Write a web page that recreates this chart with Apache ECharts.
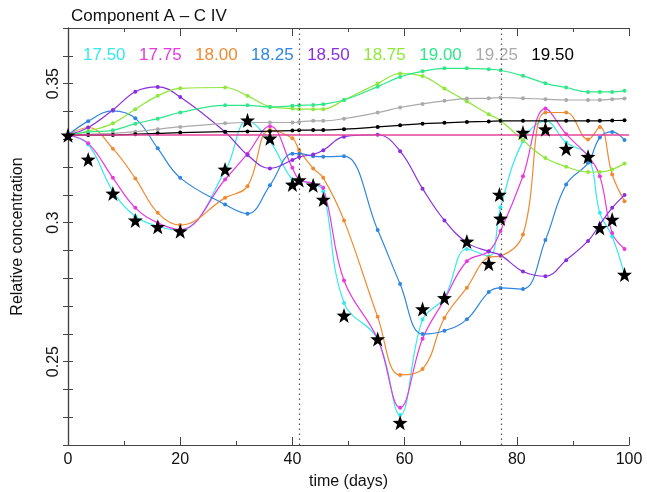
<!DOCTYPE html>
<html>
<head>
<meta charset="utf-8">
<script src="https://cdn.jsdelivr.net/npm/echarts@6/dist/echarts.min.js"></script>
<style>
  html, body { margin: 0; padding: 0; background: #fff; }
  #chart { width: 647px; height: 492px; }
</style>
</head>
<body>
<div id="chart"></div>
<script>
// sample times (days) shared by all model runs
const times = [0, 3.6, 8, 12, 16, 20, 28, 32, 36, 40, 41.2, 43.7, 45.5, 49.2, 55.2, 59.2, 63.2, 67.1, 71.1, 75, 77.1, 81.1, 85.1, 88.8, 92.7, 94.8, 97, 99.2];

const runNames = ['17.50', '17.75', '18.00', '18.25', '18.50', '18.75', '19.00', '19.25', '19.50'];
const runColors = ['#35e8ee', '#e838e0', '#f08a30', '#2f86e0', '#8a2fe0', '#8ee83a', '#2ee888', '#aaaaaa', '#000000'];

const run1750 = [0.3315, 0.3281, 0.3113, 0.3023, 0.2987, 0.2973, 0.3185, 0.3366, 0.3293, 0.3155, 0.3149, 0.3141, 0.3113, 0.2711, 0.2581, 0.2308, 0.2651, 0.2729, 0.2905, 0.2879, 0.3055, 0.3293, 0.3366, 0.3288, 0.3239, 0.3035, 0.2950, 0.2813];
const run1775 = [0.3315, 0.3285, 0.3161, 0.3053, 0.2999, 0.2975, 0.3155, 0.3248, 0.3347, 0.3197, 0.3155, 0.3141, 0.3125, 0.2792, 0.2581, 0.2334, 0.2582, 0.2723, 0.2861, 0.2897, 0.2970, 0.3167, 0.3410, 0.3318, 0.3239, 0.3167, 0.2963, 0.2905];
const run1800 = [0.3315, 0.3342, 0.3266, 0.3159, 0.3035, 0.2991, 0.3089, 0.3131, 0.3333, 0.3303, 0.3261, 0.3195, 0.3161, 0.3008, 0.2661, 0.2452, 0.2473, 0.2657, 0.2766, 0.2875, 0.2880, 0.2957, 0.3396, 0.3396, 0.3299, 0.3344, 0.3173, 0.3077];
const run1825 = [0.3315, 0.3365, 0.3402, 0.3375, 0.3267, 0.3161, 0.3065, 0.3032, 0.3134, 0.3248, 0.3248, 0.3239, 0.3237, 0.3239, 0.2973, 0.2779, 0.2599, 0.2611, 0.2652, 0.2750, 0.2765, 0.2761, 0.2937, 0.3137, 0.3215, 0.3306, 0.3326, 0.3297];
const run1850 = [0.3315, 0.3342, 0.3405, 0.3471, 0.3488, 0.3452, 0.3326, 0.3243, 0.3195, 0.3225, 0.3236, 0.3245, 0.3260, 0.3309, 0.3316, 0.3257, 0.3122, 0.3008, 0.2928, 0.2896, 0.2883, 0.2824, 0.2807, 0.2865, 0.2934, 0.2993, 0.3053, 0.3099];
const run1875 = [0.3315, 0.3329, 0.3357, 0.3408, 0.3456, 0.3483, 0.3486, 0.3456, 0.3417, 0.3410, 0.3408, 0.3408, 0.3408, 0.3441, 0.3500, 0.3536, 0.3527, 0.3482, 0.3436, 0.3390, 0.3367, 0.3296, 0.3232, 0.3201, 0.3182, 0.3182, 0.3191, 0.3213];
const run1900 = [0.3315, 0.3326, 0.3332, 0.3356, 0.3374, 0.3396, 0.3422, 0.3422, 0.3416, 0.3420, 0.3422, 0.3423, 0.3426, 0.3441, 0.3489, 0.3524, 0.3544, 0.3555, 0.3555, 0.3552, 0.3548, 0.3528, 0.3501, 0.3486, 0.3470, 0.3470, 0.3470, 0.3474];
const run1925 = [0.3315, 0.3318, 0.3321, 0.3327, 0.3336, 0.3344, 0.3357, 0.3360, 0.3360, 0.3360, 0.3362, 0.3366, 0.3366, 0.3374, 0.3396, 0.3414, 0.3427, 0.3438, 0.3446, 0.3447, 0.3450, 0.3447, 0.3444, 0.3441, 0.3441, 0.3441, 0.3444, 0.3446];
const run1950 = [0.3315, 0.3315, 0.3315, 0.3318, 0.3321, 0.3324, 0.3327, 0.3328, 0.3329, 0.3331, 0.3332, 0.3333, 0.3333, 0.3336, 0.3344, 0.3350, 0.3356, 0.3359, 0.3362, 0.3364, 0.3366, 0.3366, 0.3366, 0.3366, 0.3366, 0.3366, 0.3367, 0.3368];
const runs = [run1750, run1775, run1800, run1825, run1850, run1875, run1900, run1925, run1950];

// observations (stars)
const obsTimes = [0, 3.6, 8, 12, 16, 20, 28, 32, 36, 40, 41.2, 43.7, 45.5, 49.2, 55.2, 59.2, 63.2, 67.1, 71.1, 75, 76.9, 77.1, 81.1, 85.1, 88.8, 92.7, 94.8, 97, 99.2];
const obsValues = [0.3314, 0.3227, 0.3105, 0.3008, 0.2985, 0.2969, 0.3191, 0.3368, 0.3303, 0.3137, 0.3153, 0.3134, 0.3083, 0.2666, 0.2581, 0.2280, 0.2689, 0.2729, 0.2932, 0.2852, 0.3101, 0.3015, 0.3324, 0.3336, 0.3266, 0.3237, 0.2981, 0.3011, 0.2813];

const refLevel = 0.3315;
const markTimes = [41.2, 77.2];
const xTicks = [0, 20, 40, 60, 80, 100];
const yLabels = [0.25, 0.3, 0.35];

const FONT = 'Liberation Sans, Arial, sans-serif';
const star = 'path://M0,-10 L2.35,-3.24 L9.51,-3.09 L3.8,1.24 L5.88,8.09 L0,4 L-5.88,8.09 L-3.8,1.24 L-9.51,-3.09 L-2.35,-3.24 Z';

const chart = echarts.init(document.getElementById('chart'), null, { renderer: 'canvas' });

const series = runs.map((vals, i) => ({
  name: runNames[i],
  type: 'line',
  data: times.map((t, j) => [t, vals[j]]),
  smooth: 0.4,
  symbol: 'circle',
  symbolSize: 4,
  showSymbol: true,
  lineStyle: { width: 1.2, color: runColors[i] },
  itemStyle: { color: runColors[i] },
  emphasis: { disabled: true },
  z: 3
}));

series.push({
  name: 'reference',
  type: 'line',
  data: [[0, refLevel], [100, refLevel]],
  symbol: 'none',
  lineStyle: { width: 1.5, color: '#e4449a' },
  z: 4,
  markLine: {
    silent: true,
    symbol: 'none',
    label: { show: false },
    lineStyle: { type: [1.5, 3.5], color: '#555', width: 1.2 },
    data: markTimes.map(t => ({ xAxis: t }))
  }
});

series.push({
  name: 'observed',
  type: 'scatter',
  data: obsTimes.map((t, j) => [t, obsValues[j]]),
  symbol: star,
  symbolSize: 15,
  itemStyle: { color: '#000', opacity: 1 },
  emphasis: { disabled: true },
  z: 6
});

const axisCommon = {
  axisLine: { lineStyle: { color: '#444', width: 1.2 } },
  splitLine: { show: false }
};

chart.setOption({
  animation: false,
  title: {
    text: 'Component A \u2013 C IV',
    left: 66,
    top: 3,
    textStyle: { fontFamily: FONT, fontSize: 17, fontWeight: 'normal', color: '#111' }
  },
  legend: {
    data: runNames.map((n, i) => ({ name: n, icon: 'none', textStyle: { color: runColors[i] } })),
    left: 73,
    top: 42,
    itemWidth: 0,
    itemHeight: 10,
    itemGap: 8.5,
    selectedMode: false,
    textStyle: { fontFamily: FONT, fontSize: 17 }
  },
  grid: { left: 68, right: 18, top: 28, bottom: 47, outerBoundsMode: 'none' },
  xAxis: [{
    type: 'value', min: 0, max: 100, interval: 20,
    name: 'time (days)', nameLocation: 'middle', nameGap: 29,
    nameTextStyle: { fontFamily: FONT, fontSize: 16, color: '#111' },
    ...axisCommon,
    axisTick: { inside: true, length: 8, lineStyle: { color: '#444' } },
    minorTick: { show: true, splitNumber: 2, length: 4, lineStyle: { color: '#444' } },
    axisLabel: { fontFamily: FONT, fontSize: 16, color: '#111', margin: 7,
      formatter: v => xTicks.includes(v) ? String(v) : '' }
  }, {
    type: 'value', min: 0, max: 100, interval: 20, position: 'top',
    ...axisCommon,
    axisTick: { inside: true, length: 8, lineStyle: { color: '#444' } },
    minorTick: { show: true, splitNumber: 2, length: 4, lineStyle: { color: '#444' } },
    axisLabel: { show: false }
  }],
  yAxis: [{
    type: 'value', min: 0.22, max: 0.37, interval: 0.01,
    name: 'Relative concentration', nameLocation: 'middle', nameGap: 42, nameRotate: 90,
    nameTextStyle: { fontFamily: FONT, fontSize: 16, color: '#111' },
    ...axisCommon,
    axisTick: { inside: true, length: 5, lineStyle: { color: '#444' } },
    axisLabel: { fontFamily: FONT, fontSize: 16, color: '#111', rotate: 90, margin: 6,
      formatter: v => {
        const hit = yLabels.find(l => Math.abs(l - v) < 1e-6);
        return hit !== undefined ? String(hit) : '';
      } }
  }, {
    type: 'value', min: 0.22, max: 0.37, interval: 0.01, position: 'right',
    ...axisCommon,
    axisTick: { inside: true, length: 5, lineStyle: { color: '#444' } },
    axisLabel: { show: false }
  }],
  series: series
});
</script>
</body>
</html>
